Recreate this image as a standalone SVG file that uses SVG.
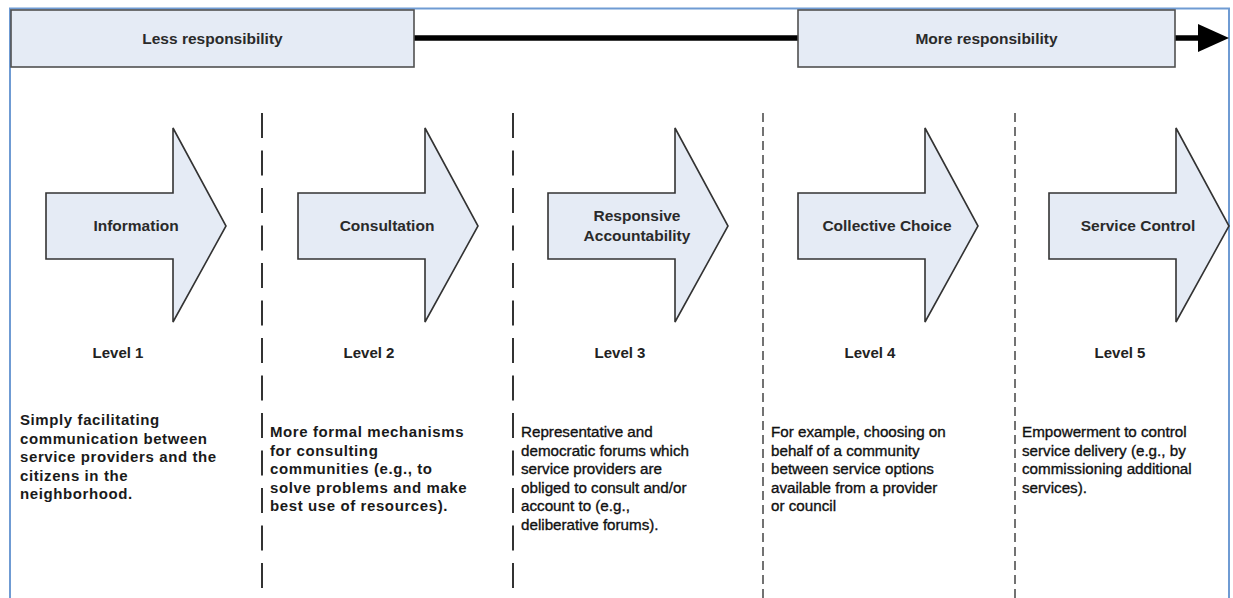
<svg xmlns="http://www.w3.org/2000/svg" width="1233" height="598" viewBox="0 0 1233 598">
<style>
.box{fill:#e5ebf5;stroke:#505050;stroke-width:1.6}
.arr{fill:#e5ebf5;stroke:#333;stroke-width:1.6;stroke-linejoin:miter}
.t{font-family:"Liberation Sans",Arial,sans-serif;font-weight:bold;fill:#2a2a2a;font-size:15.5px;text-anchor:middle}
.hd{font-family:"Liberation Sans",Arial,sans-serif;fill:#2a2a2a;font-size:15.5px;text-anchor:middle;font-weight:bold}
.lv{font-family:"Liberation Sans",Arial,sans-serif;font-weight:bold;fill:#222;font-size:15px;text-anchor:middle}
.db{font-family:"Liberation Sans",Arial,sans-serif;font-weight:bold;fill:#1a1a1a;font-size:15px;letter-spacing:0.6px}
.dr{font-family:"Liberation Sans",Arial,sans-serif;fill:#111;font-size:15.2px;stroke:#111;stroke-width:0.35}
.sepL{stroke:#333;stroke-width:2;stroke-dasharray:25 12.5;fill:none}
.sepS{stroke:#444;stroke-width:1.5;stroke-dasharray:9 5;fill:none}
</style>
<defs>
<path id="bigArrow" d="M0,0 H127 V-65 L180,33 L127,129 V66 H0 Z"/>
</defs>
<rect width="1233" height="598" fill="#fff"/>
<g id="frame">
<rect x="10" y="8.5" width="1219" height="620" fill="none" stroke="#6f9bd3" stroke-width="2"/>
</g>
<g id="separators">
<line class="sepL" x1="262" y1="113" x2="262" y2="598"/>
<line class="sepL" x1="513" y1="113" x2="513" y2="598"/>
<line class="sepS" x1="763" y1="113" x2="763" y2="598"/>
<line class="sepS" x1="1015" y1="113" x2="1015" y2="598"/>
</g>
<g id="connectors">
<line x1="414" y1="38" x2="798" y2="38" stroke="#000" stroke-width="5.5" stroke-linecap="round"/>
<line x1="1175" y1="38" x2="1202" y2="38" stroke="#000" stroke-width="5.5" stroke-linecap="round"/>
<polygon points="1198,24 1229,38 1198,52" fill="#000"/>
</g>
<g id="less-responsibility">
<rect class="box" x="11" y="10" width="403" height="57"/>
<text class="hd" x="212.5" y="43.5">Less responsibility</text>
</g>
<g id="more-responsibility">
<rect class="box" x="798" y="10" width="377" height="57"/>
<text class="hd" x="986.5" y="43.5">More responsibility</text>
</g>
<g id="level1">
<use href="#bigArrow" class="arr" x="46" y="193"/>
<text class="t" x="136" y="231">Information</text>
<text class="lv" x="118" y="358">Level 1</text>
<text class="db" x="20" y="425">Simply facilitating</text>
<text class="db" x="20" y="443.5">communication between</text>
<text class="db" x="20" y="462">service providers and the</text>
<text class="db" x="20" y="480.5">citizens in the</text>
<text class="db" x="20" y="499">neighborhood.</text>
</g>
<g id="level2">
<use href="#bigArrow" class="arr" x="298" y="193"/>
<text class="t" x="387" y="231">Consultation</text>
<text class="lv" x="369" y="358">Level 2</text>
<text class="db" x="270" y="437">More formal mechanisms</text>
<text class="db" x="270" y="455.5">for consulting</text>
<text class="db" x="270" y="474">communities (e.g., to</text>
<text class="db" x="270" y="492.5">solve problems and make</text>
<text class="db" x="270" y="511">best use of resources).</text>
</g>
<g id="level3">
<use href="#bigArrow" class="arr" x="548" y="193"/>
<text class="t" x="637" y="221">Responsive</text>
<text class="t" x="637" y="241">Accountability</text>
<text class="lv" x="620" y="358">Level 3</text>
<text class="dr" x="521" y="437">Representative and</text>
<text class="dr" x="521" y="455.5">democratic forums which</text>
<text class="dr" x="521" y="474">service providers are</text>
<text class="dr" x="521" y="492.5">obliged to consult and/or</text>
<text class="dr" x="521" y="511">account to (e.g.,</text>
<text class="dr" x="521" y="529.5">deliberative forums).</text>
</g>
<g id="level4">
<use href="#bigArrow" class="arr" x="798" y="193"/>
<text class="t" x="887" y="231">Collective Choice</text>
<text class="lv" x="870" y="358">Level 4</text>
<text class="dr" x="771" y="437">For example, choosing on</text>
<text class="dr" x="771" y="455.5">behalf of a community</text>
<text class="dr" x="771" y="474">between service options</text>
<text class="dr" x="771" y="492.5">available from a provider</text>
<text class="dr" x="771" y="511">or council</text>
</g>
<g id="level5">
<use href="#bigArrow" class="arr" x="1049" y="193"/>
<text class="t" x="1138" y="231">Service Control</text>
<text class="lv" x="1120" y="358">Level 5</text>
<text class="dr" x="1022" y="437">Empowerment to control</text>
<text class="dr" x="1022" y="455.5">service delivery (e.g., by</text>
<text class="dr" x="1022" y="474">commissioning additional</text>
<text class="dr" x="1022" y="492.5">services).</text>
</g>
</svg>
